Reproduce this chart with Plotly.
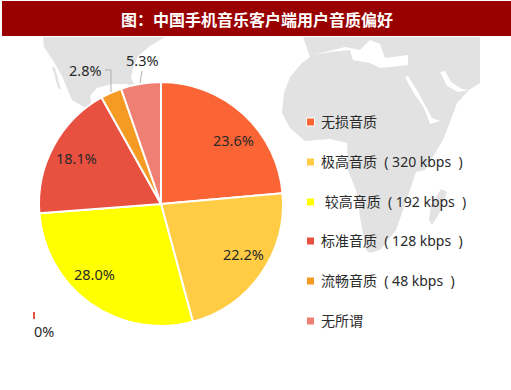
import plotly.graph_objects as go

# --- data ---
categories = ["无损音质", "极高音质 ( 320 kbps )", " 较高音质 ( 192 kbps )",
              "标准音质 ( 128 kbps )", "流畅音质 ( 48 kbps )", "无所谓"]
shares = [23.6, 22.2, 28.0, 18.1, 2.8, 5.3]
colors = ["#FB6535", "#FFCC44", "#FFFF00", "#E85040", "#F59A23", "#EF7F72"]
title = "图：中国手机音乐客户端用户音质偏好"

W, H = 511, 390
GREY = "#E2E2E2"
TXT = "#2A2A2A"
LAT = "Noto Sans, Noto Sans CJK SC, sans-serif"

def px(x): return x / W
def py(y): return 1 - y / H

def path(points, closed=True):
    s = "M" + " L".join(f"{x/W:.4f},{1-y/H:.4f}" for x, y in points)
    return s + (" Z" if closed else "")

shapes = []
def poly(points, fill):
    shapes.append(dict(type="path", xref="paper", yref="paper", layer="below",
                       path=path(points), fillcolor=fill, line=dict(width=0)))

# backdrop map (decorative, traced by eye)
america = [(43,37),(165,37),(150,46),(138,56),(133,68),(131,78),(136,88),(133,92),(128,84),
           (112,84),(97,88),(90,96),(92,106),(110,112),(120,130),(90,130),(86,108),(72,100),
           (62,76),(54,62),(44,47)]
baja = [(52,66),(55,68),(61,90),(58,88)]
africa_eurasia = [(303,37),(480,37),(480,83),(469,90),(457,103),(450,122),(443,140),(425,170),
                  (416,172),(410,190),(396,230),(380,250),(370,253),(366,250),(360,217),(357,193),
                  (348,170),(347,143),(330,139),(305,141),(290,128),(282,113),(284,93),(290,77),
                  (302,63),(310,57)]
madagascar = [(441,189),(447,192),(440,212),(432,225),(429,220),(431,205)]
poly(america, GREY)
poly(baja, GREY)
poly(africa_eurasia, GREY)
poly(madagascar, GREY)
# white seas on top of the grey
poly([(313,55),(330,52),(350,50),(353,60),(370,63),(380,68),(408,65),(408,55),(385,58),(380,44),
      (370,40),(360,50),(345,47)], "white")
poly([(405,77),(408,76),(418,92),(432,118),(440,121),(430,124),(424,108),(413,92)], "white")
poly([(440,72),(445,71),(451,82),(462,89),(469,90),(458,92),(447,86)], "white")

# title banner
shapes.append(dict(type="rect", xref="paper", yref="paper", x0=px(2), x1=px(511), y0=py(36), y1=py(1),
                   fillcolor="#990000", line=dict(width=0), layer="below"))

# legend swatches
row_y = [122, 162, 202, 241, 281, 321]
for y, c in zip(row_y, colors):
    shapes.append(dict(type="rect", xref="paper", yref="paper", x0=px(306.5), x1=px(314.5),
                       y0=py(y+4), y1=py(y-4), fillcolor=c, line=dict(color="white", width=1)))

# leader lines
for pts in ([(105,70),(111,70),(111,92)], [(142,71),(140,83)]):
    shapes.append(dict(type="path", xref="paper", yref="paper", path=path(pts, closed=False),
                       line=dict(color="#B0B0B0", width=1), fillcolor="rgba(0,0,0,0)"))
# stray tick next to 0%
shapes.append(dict(type="rect", xref="paper", yref="paper", x0=px(33), x1=px(35), y0=py(319), y1=py(312),
                   fillcolor="#E85040", line=dict(width=0)))

def note(text, x, y, anchor="center", color=TXT, size=14.5, family=LAT):
    return dict(text=text, x=px(x), y=py(y), xref="paper", yref="paper", showarrow=False,
                xanchor=anchor, yanchor="middle", font=dict(family=family, size=size, color=color))

annotations = [note(f"<b>{title}</b>", 257, 19, color="white", size=16, family="Noto Sans CJK SC, serif")]
for y, name in zip(row_y, categories):
    shown = name.replace(" ( ", "&nbsp;&nbsp;(&nbsp;").replace(" )", "&nbsp;&nbsp;)")
    if shown.startswith(" "):
        shown = "&nbsp;" + shown[1:]
    annotations.append(note(shown, 318.5, y - 0.5, anchor="left", size=14))

label_xy = [(233, 140), (243, 254), (94, 274), (76, 158), (85, 70), (142, 60)]
for v, (x, y) in zip(shares, label_xy):
    annotations.append(note(f"{v:.1f}%", x, y))
annotations.append(note("0%", 44, 331))

fig = go.Figure(go.Pie(
    labels=categories, values=shares, sort=False, direction="clockwise", rotation=0,
    marker=dict(colors=colors, line=dict(color="white", width=2)),
    textinfo="none", hoverinfo="label+percent",
    domain=dict(x=[px(39), px(283)], y=[py(326), py(82)]), showlegend=False))
fig.update_layout(width=W, height=H, margin=dict(l=0, r=0, t=0, b=0), paper_bgcolor="white",
                  plot_bgcolor="rgba(0,0,0,0)", shapes=shapes, annotations=annotations, showlegend=False)
fig.write_html("out.html", config=dict(displayModeBar=False),
               post_script="document.body.style.margin='0';")
